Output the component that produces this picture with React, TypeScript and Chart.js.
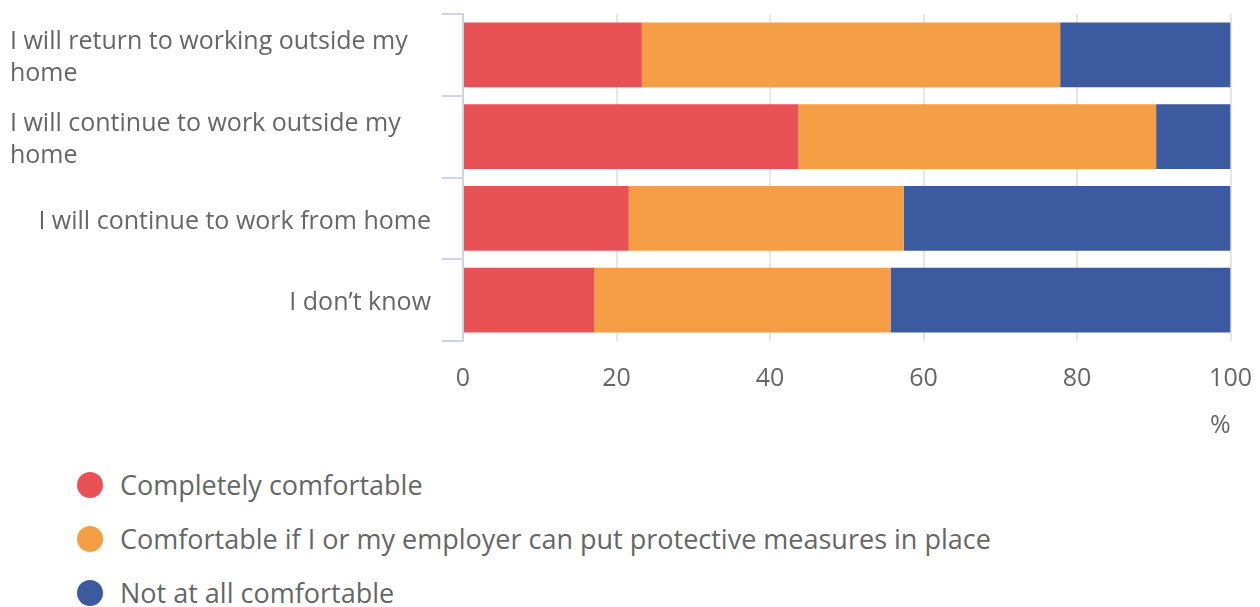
import React, { useEffect, useRef } from 'react';
import { Chart, registerables } from 'chart.js';

Chart.register(...registerables);

const categories: string[][] = [
  ['I will return to working outside my', 'home'],
  ['I will continue to work outside my', 'home'],
  ['I will continue to work from home'],
  ['I don\u2019t know'],
];

const seriesNames = [
  'Completely comfortable',
  'Comfortable if I or my employer can put protective measures in place',
  'Not at all comfortable',
];

const completelyComfortable = [23.3, 43.7, 21.6, 17.1];
const comfortableIfMeasures = [54.5, 46.6, 35.8, 38.6];
const notAtAllComfortable = [22.2, 9.7, 42.6, 44.3];

const xTickValues = [0, 20, 40, 60, 80, 100];
const xAxisTitle = '%';

const seriesColors = ['#E85255', '#F59E45', '#3C5A9F'];

const FONT = '"Open Sans", "DejaVu Sans", sans-serif';
const TEXT_COLOR = '#666666';

export default function App() {
  const canvasRef = useRef<HTMLCanvasElement | null>(null);

  useEffect(() => {
    if (!canvasRef.current) return;
    const seriesValues = [completelyComfortable, comfortableIfMeasures, notAtAllComfortable];

    const yLabelPlugin = {
      id: 'yLabelPlugin',
      afterDraw(chart: any) {
        const ctx = chart.ctx;
        const yScale = chart.scales.y;
        ctx.save();
        ctx.font = `25px ${FONT}`;
        ctx.fillStyle = TEXT_COLOR;
        ctx.textBaseline = 'middle';
        const lh = 32;
        categories.forEach((lines, i) => {
          const cy = yScale.getPixelForValue(i) + 3;
          const top = cy - ((lines.length - 1) * lh) / 2;
          const multi = lines.length > 1;
          ctx.textAlign = multi ? 'left' : 'right';
          const x = multi ? 2 : 423;
          lines.forEach((ln, j) => ctx.fillText(ln, x, top + j * lh));
        });
        ctx.restore();
      },
    };

    const chart = new Chart(canvasRef.current, {
      type: 'bar',
      data: {
        labels: categories.map((c) => c.join(' ')),
        datasets: seriesNames.map((name, k) => ({
          label: name,
          data: seriesValues[k],
          backgroundColor: seriesColors[k],
          borderWidth: 0,
          categoryPercentage: 0.795,
          barPercentage: 1,
        })),
      },
      options: {
        indexAxis: 'y',
        responsive: true,
        maintainAspectRatio: false,
        animation: false,
        layout: { padding: { top: 6, right: 0, left: 0, bottom: 0 } },
        plugins: {
          legend: { display: false },
          tooltip: { enabled: false },
        },
        scales: {
          x: {
            type: 'linear',
            stacked: true,
            min: 0,
            max: 100,
            afterBuildTicks: (scale: any) => {
              scale.ticks = xTickValues.map((v) => ({ value: v }));
            },
            afterFit: (scale: any) => {
              scale.height = 102;
            },
            ticks: {
              color: TEXT_COLOR,
              font: { family: FONT, size: 25 },
              padding: 0,
              maxRotation: 0,
            },
            grid: {
              color: '#e6e6e6',
              lineWidth: 2,
              drawTicks: true,
              tickLength: 23,
              tickColor: 'rgba(0,0,0,0)',
            },
            border: { display: false },
            title: {
              display: true,
              text: xAxisTitle,
              align: 'end',
              color: TEXT_COLOR,
              font: { family: FONT, size: 25 },
              padding: { top: 0, bottom: 2 },
            },
          },
          y: {
            stacked: true,
            ticks: { display: false },
            grid: {
              offset: true,
              drawOnChartArea: false,
              tickLength: 21,
              color: '#ccd6eb',
              lineWidth: 2,
            },
            border: { color: '#ccd6eb', width: 2 },
            afterFit: (scale: any) => {
              scale.width = 455;
            },
          },
        },
      } as any,
      plugins: [yLabelPlugin],
    });

    return () => chart.destroy();
  }, []);

  return (
    <div style={{ position: 'relative', width: 1244, height: 599, fontFamily: FONT }}>
      <div style={{ position: 'relative', width: 1244, height: 435 }}>
        <canvas ref={canvasRef} />
      </div>
      <div style={{ position: 'absolute', left: 69, top: 450 }}>
        {seriesNames.map((name, k) => (
          <div key={name} style={{ display: 'flex', alignItems: 'center', height: 54 }}>
            <span
              style={{
                display: 'inline-block',
                width: 26,
                height: 26,
                borderRadius: '50%',
                background: seriesColors[k],
                marginRight: 17,
                flex: '0 0 auto',
              }}
            />
            <span style={{ fontSize: 27, color: TEXT_COLOR, whiteSpace: 'nowrap', lineHeight: '32px' }}>{name}</span>
          </div>
        ))}
      </div>
    </div>
  );
}
